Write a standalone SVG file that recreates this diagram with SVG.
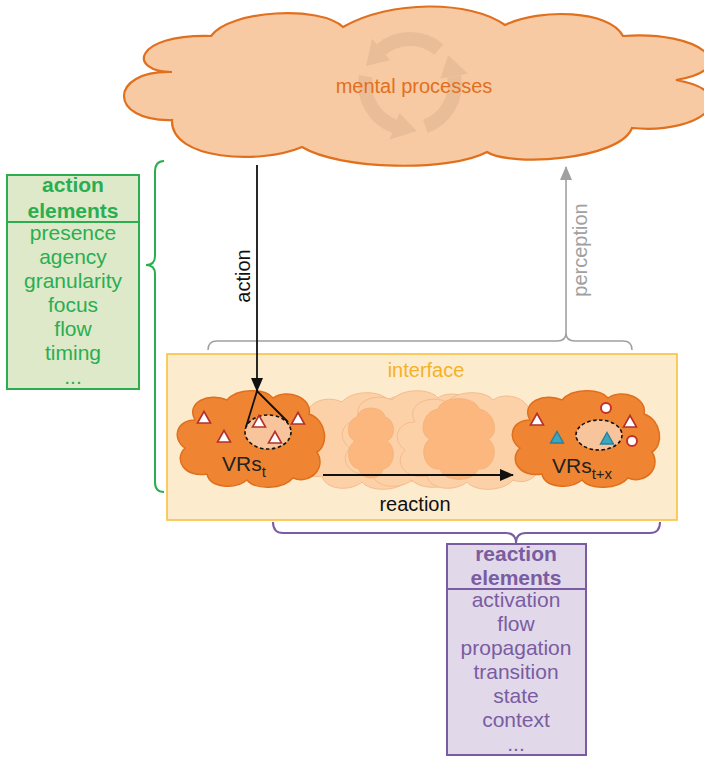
<svg xmlns="http://www.w3.org/2000/svg" xmlns:xlink="http://www.w3.org/1999/xlink" width="704" height="757" viewBox="0 0 704 757">
<style>
text{font-family:"Liberation Sans",Arial,Helvetica,sans-serif;}
.grn{fill:#2aae50;font-size:21px;text-anchor:middle;}
.pur{fill:#7a5ca2;font-size:21px;text-anchor:middle;}
.b{font-weight:bold;}
.tri{fill:#ffffff;stroke:#b3302c;stroke-width:1.6;stroke-linejoin:miter;}
.teal{fill:#3aa6c2;stroke:#2b7f96;stroke-width:1.4;}
.dot{fill:#ffffff;stroke:#c3312c;stroke-width:2;}
.dash{fill:#f8c49c;stroke:#111;stroke-width:1.6;stroke-dasharray:3.5,2.5;}
.rec{fill:none;stroke:#eabd99;stroke-width:14;}
.rech{fill:#eabd99;}
.fade{fill:#fdd1a7;stroke:#f5bb8c;stroke-width:1;}
.blob{fill:#fbb77e;stroke:#f2ab74;stroke-width:1;stroke-opacity:0.6;}
</style>
<defs>
<path id="cl" d="M20,30 C10,12 35,2 52,10 C62,-2 90,-2 98,8 C112,-2 138,8 134,24 C152,30 154,55 142,62 C152,78 135,95 118,88 C108,100 80,100 72,90 C60,100 35,98 32,84 C10,88 -2,70 10,58 C-4,48 2,30 20,30 Z"/>
<path id="tri" d="M0,-6.5 L6.5,5 L-6.5,5 Z"/>
<marker id="ahb" markerUnits="userSpaceOnUse" markerWidth="14" markerHeight="12" viewBox="0 0 14 12" refX="13" refY="6" orient="auto"><path d="M0,0 L14,6 L0,12 Z" fill="#111"/></marker>
<marker id="ahg" markerUnits="userSpaceOnUse" markerWidth="14" markerHeight="12" viewBox="0 0 14 12" refX="13" refY="6" orient="auto"><path d="M0,0 L14,6 L0,12 Z" fill="#a0a0a0"/></marker>
</defs>

<g id="mental-processes">
<path d="M172,72 C128,72 132,34 211,36 C230,10 320,5 343,27 C390,0 470,0 505,25 C540,8 610,10 623,36 C700,30 745,68 676,80 C745,92 705,135 632,128 C620,160 510,167 487,152 C450,172 340,170 302,147 C260,165 170,160 172,120 C108,122 108,70 172,72 Z" fill="#f8caa4" stroke="#e0701e" stroke-width="2.2"/>
<path class="rec" d="M438.9,49.5 A45,45 0 0 0 381.1,49.5"/>
<path class="rech" d="M390.1,60.3 L372.1,38.8 L366,66 Z"/>
<path class="rec" d="M425.4,126.3 A45,45 0 0 0 454.3,76.2"/>
<path class="rech" d="M440.5,78.6 L468.1,73.8 L448,55 Z"/>
<path class="rec" d="M365.7,76.2 A45,45 0 0 0 394.6,126.3"/>
<path class="rech" d="M399.4,113.1 L389.8,139.4 L417,131 Z"/>
<text x="414" y="93" font-size="20" fill="#e0701e" text-anchor="middle">mental processes</text>
</g>

<g id="action-elements">
<rect x="7" y="175" width="132" height="214" fill="#dde9c9" stroke="#2aae50" stroke-width="2"/>
<line x1="7" y1="222" x2="139" y2="222" stroke="#2aae50" stroke-width="2"/>
<text class="grn b" x="73" y="192">action</text>
<text class="grn b" x="73" y="218">elements</text>
<text class="grn" x="73" y="240">presence</text>
<text class="grn" x="73" y="264">agency</text>
<text class="grn" x="73" y="288">granularity</text>
<text class="grn" x="73" y="312">focus</text>
<text class="grn" x="73" y="336">flow</text>
<text class="grn" x="73" y="360">timing</text>
<text class="grn" x="73" y="384">...</text>
</g>

<g id="action-brace">
<path d="M164,161 Q155,161 155,172 L155,256 Q155,265 146,265 Q155,265 155,274 L155,482 Q155,492 164,492" fill="none" stroke="#2aae50" stroke-width="2"/>
</g>

<g id="interface">
<rect x="167" y="354" width="510" height="166" fill="#fdebcd" stroke="#f8c13e" stroke-width="1.6"/>
<text x="426" y="377" font-size="20" fill="#f5b12a" text-anchor="middle">interface</text>
</g>

<g id="intermediate-states">
<use xlink:href="#cl" class="fade" transform="translate(290,392)"/>
<use xlink:href="#cl" class="fade" transform="translate(340,390)"/>
<use xlink:href="#cl" class="fade" transform="translate(395,392)"/>
<path class="blob" transform="translate(347,405)" d="M10,12 C12,0 36,0 38,12 C48,14 50,32 40,36 C50,42 48,62 36,64 C34,76 14,76 12,64 C0,62 -2,42 8,36 C-2,32 0,14 10,12 Z"/>
<path class="blob" transform="translate(420,395)" d="M18,14 C22,0 55,0 59,14 C75,16 80,40 68,44 C80,52 74,76 58,74 C54,88 24,88 20,74 C4,76 -2,52 10,44 C-2,40 2,16 18,14 Z"/>
</g>

<g id="vrs-t">
<use xlink:href="#cl" transform="translate(175,390)" fill="#ef8532" stroke="#e06f1d" stroke-width="1.5"/>
<ellipse class="dash" cx="268" cy="432" rx="23" ry="17"/>
<use xlink:href="#tri" class="tri" x="204" y="418"/>
<use xlink:href="#tri" class="tri" x="224" y="437"/>
<use xlink:href="#tri" class="tri" x="259" y="422"/>
<use xlink:href="#tri" class="tri" x="275" y="438"/>
<use xlink:href="#tri" class="tri" x="298" y="419"/>
<text x="222" y="471" font-size="21" fill="#222">VRs<tspan font-size="15" dy="6">t</tspan></text>
</g>

<g id="vrs-tx">
<use xlink:href="#cl" transform="translate(510,390)" fill="#ef8532" stroke="#e06f1d" stroke-width="1.5"/>
<ellipse class="dash" cx="599" cy="435" rx="23" ry="15"/>
<use xlink:href="#tri" class="tri" x="537" y="420"/>
<use xlink:href="#tri" class="teal" x="557" y="438"/>
<use xlink:href="#tri" class="tri" x="630" y="422"/>
<use xlink:href="#tri" class="teal" x="607" y="439"/>
<circle class="dot" cx="606" cy="408" r="5"/>
<circle class="dot" cx="632" cy="441" r="5"/>
<text x="552" y="473" font-size="21" fill="#222">VRs<tspan font-size="15" dy="6">t+x</tspan></text>
</g>

<g id="reaction-elements">
<rect x="447" y="544" width="139" height="211" fill="#e1d9e9" stroke="#7a5ca2" stroke-width="2"/>
<line x1="447" y1="589" x2="586" y2="589" stroke="#7a5ca2" stroke-width="2"/>
<text class="pur b" x="516" y="561">reaction</text>
<text class="pur b" x="516" y="585">elements</text>
<text class="pur" x="516" y="607">activation</text>
<text class="pur" x="516" y="631">flow</text>
<text class="pur" x="516" y="655">propagation</text>
<text class="pur" x="516" y="679">transition</text>
<text class="pur" x="516" y="703">state</text>
<text class="pur" x="516" y="727">context</text>
<text class="pur" x="516" y="751">...</text>
</g>

<g id="connectors">
<path d="M208,350 Q208,341 217,341 L557,341 Q566,341 566,333 Q566,341 575,341 L623,341 Q632,341 632,350" fill="none" stroke="#a0a0a0" stroke-width="1.5"/>
<line x1="566" y1="333" x2="566" y2="167" stroke="#a0a0a0" stroke-width="1.6" marker-end="url(#ahg)"/>
<text transform="translate(587,250) rotate(-90)" font-size="20" fill="#a0a0a0" text-anchor="middle">perception</text>
<line x1="257" y1="165" x2="257" y2="391" stroke="#111" stroke-width="1.8" marker-end="url(#ahb)"/>
<text transform="translate(250,276) rotate(-90)" font-size="20" fill="#111" text-anchor="middle">action</text>
<polyline points="246,427 257,391 288,422" fill="none" stroke="#111" stroke-width="1.8"/>
<line x1="323" y1="475" x2="513" y2="475" stroke="#111" stroke-width="1.8" marker-end="url(#ahb)"/>
<text x="415" y="511" font-size="20" fill="#111" text-anchor="middle">reaction</text>
<path d="M273,522 Q273,533 283,533 L506,533 Q516,533 516,543 Q516,533 526,533 L650,533 Q660,533 660,522" fill="none" stroke="#7a5ca2" stroke-width="2"/>
</g>
</svg>
